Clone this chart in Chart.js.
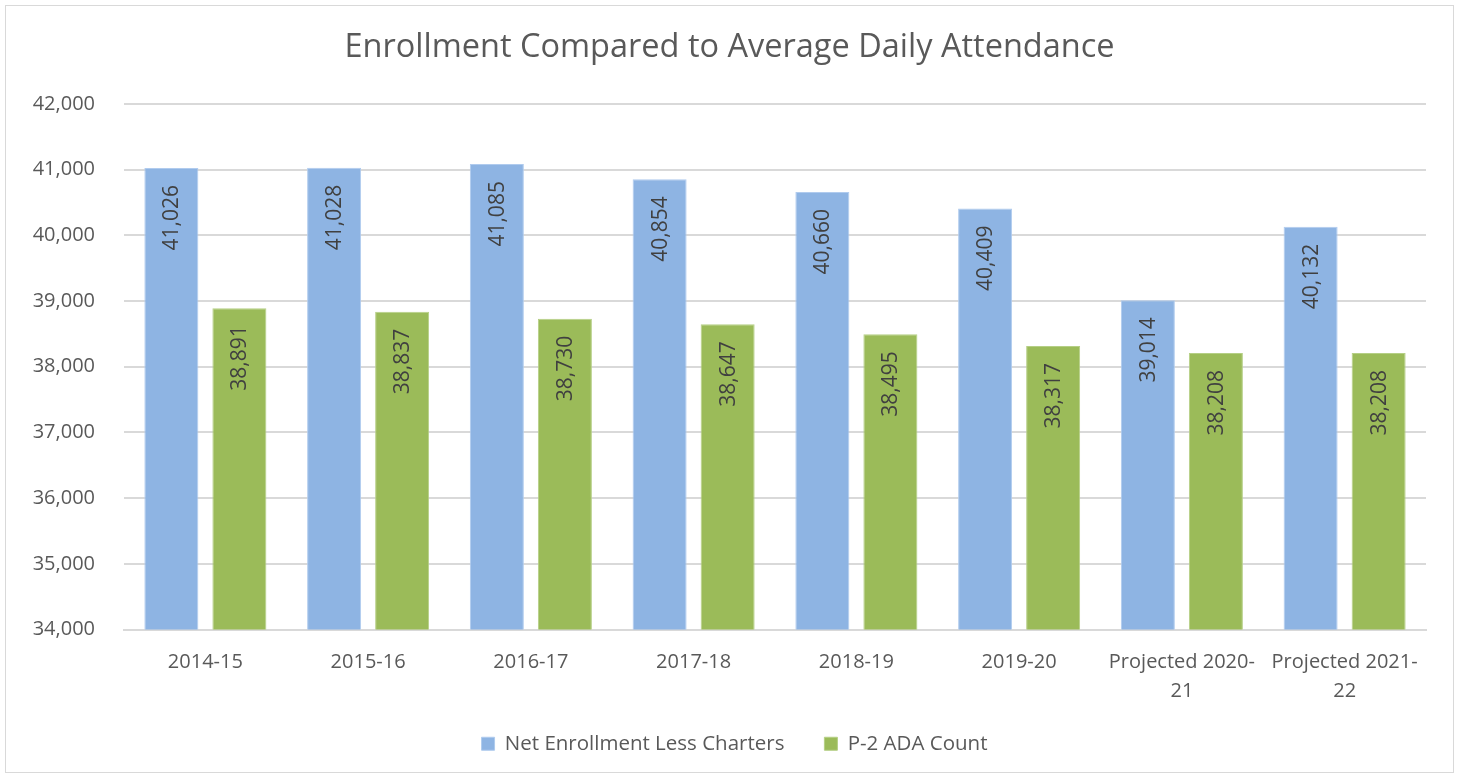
<!DOCTYPE html>
<html>
<head>
<meta charset="utf-8">
<script src="https://cdn.jsdelivr.net/npm/chart.js@4/dist/chart.umd.min.js"></script>
<style>
  html, body { margin: 0; padding: 0; background: #fff; }
  #wrap { position: absolute; left: 5px; top: 5px; width: 1447px; height: 766px; border: 1px solid #d9d9d9; background: #fff; }
  canvas { display: block; }
</style>
</head>
<body>
<div id="wrap"><canvas id="c"></canvas></div>
<script>
const categories = ["2014-15", "2015-16", "2016-17", "2017-18", "2018-19", "2019-20", ["Projected 2020-", "21"], ["Projected 2021-", "22"]];
const enrollment = [41026, 41028, 41085, 40854, 40660, 40409, 39014, 40132];
const ada = [38891, 38837, 38730, 38647, 38495, 38317, 38208, 38208];
const seriesNames = ["Net Enrollment Less Charters", "P-2 ADA Count"];
const yMin = 34000, yMax = 42000, yStep = 1000;

const FONT = "'Open Sans', 'Liberation Sans', sans-serif";
const TEXT = "#595959";

const labelPlugin = {
  id: 'vlabels',
  afterDatasetsDraw(chart) {
    const ctx = chart.ctx;
    chart.data.datasets.forEach((ds, i) => {
      const meta = chart.getDatasetMeta(i);
      meta.data.forEach((bar, j) => {
        const txt = ds.data[j].toLocaleString('en-US');
        ctx.save();
        ctx.translate(bar.x, bar.y + 17);
        ctx.rotate(-Math.PI / 2);
        ctx.font = "21px " + FONT;
        ctx.fillStyle = "#404040";
        ctx.textAlign = 'right';
        ctx.textBaseline = 'middle';
        ctx.fillText(txt, 0, 1);
        ctx.restore();
      });
    });
  }
};

// tighten the legend's vertical space while keeping horizontal item spacing
const LEGEND_CUT = 36, LEGEND_UP = 30, LEGEND_SHIFT_X = 5;
const legendTweak = {
  id: 'legendTweak',
  beforeLayout(chart) {
    const lg = chart.legend;
    if (!lg || lg.__patched) return;
    lg.__patched = true;
    const fit = lg.fit;
    lg.fit = function () { fit.call(this); this.height = Math.max(0, this.height - LEGEND_CUT); };
    const draw = lg.draw;
    lg.draw = function () {
      const t = this.top, l = this.left, r = this.right;
      this.top = t - LEGEND_UP; this.left = l + LEGEND_SHIFT_X; this.right = r + LEGEND_SHIFT_X;
      draw.call(this);
      this.top = t; this.left = l; this.right = r;
    };
  }
};

new Chart(document.getElementById('c'), {
  type: 'bar',
  data: {
    labels: categories,
    datasets: [
      { label: seriesNames[0], data: enrollment, backgroundColor: '#8eb4e3', borderColor: '#b0cbee', borderWidth: 1 },
      { label: seriesNames[1], data: ada, backgroundColor: '#9bbb59', borderColor: '#b5cf85', borderWidth: 1 }
    ]
  },
  options: {
    responsive: true,
    maintainAspectRatio: false,
    animation: false,
    categoryPercentage: 0.836,
    barPercentage: 0.794,
    layout: { padding: { left: 27, right: 27, top: 0, bottom: 14 } },
    plugins: {
      title: {
        display: true,
        text: 'Enrollment Compared to Average Daily Attendance',
        color: TEXT,
        font: { family: FONT, size: 32.5, weight: 'normal' },
        padding: { top: 22, bottom: 37 }
      },
      legend: {
        position: 'bottom',
        labels: {
          color: TEXT,
          font: { family: FONT, size: 20.5 },
          boxWidth: 13, boxHeight: 13,
          padding: 40
        }
      },
      tooltip: { enabled: false }
    },
    scales: {
      x: {
        grid: { display: false, drawTicks: false },
        border: { color: '#d9d9d9', width: 2 },
        ticks: { color: TEXT, font: { family: FONT, size: 20, lineHeight: 1.45 }, padding: 18, maxRotation: 0, autoSkip: false }
      },
      y: {
        min: yMin, max: yMax,
        afterFit: s => { s.width = 91; },
        grid: { color: '#d9d9d9', lineWidth: 2, drawTicks: false },
        border: { display: false },
        ticks: { stepSize: yStep, color: TEXT, font: { family: FONT, size: 20 }, padding: 29,
          callback: v => v.toLocaleString('en-US') }
      }
    }
  },
  plugins: [labelPlugin, legendTweak]
});
</script>
</body>
</html>
